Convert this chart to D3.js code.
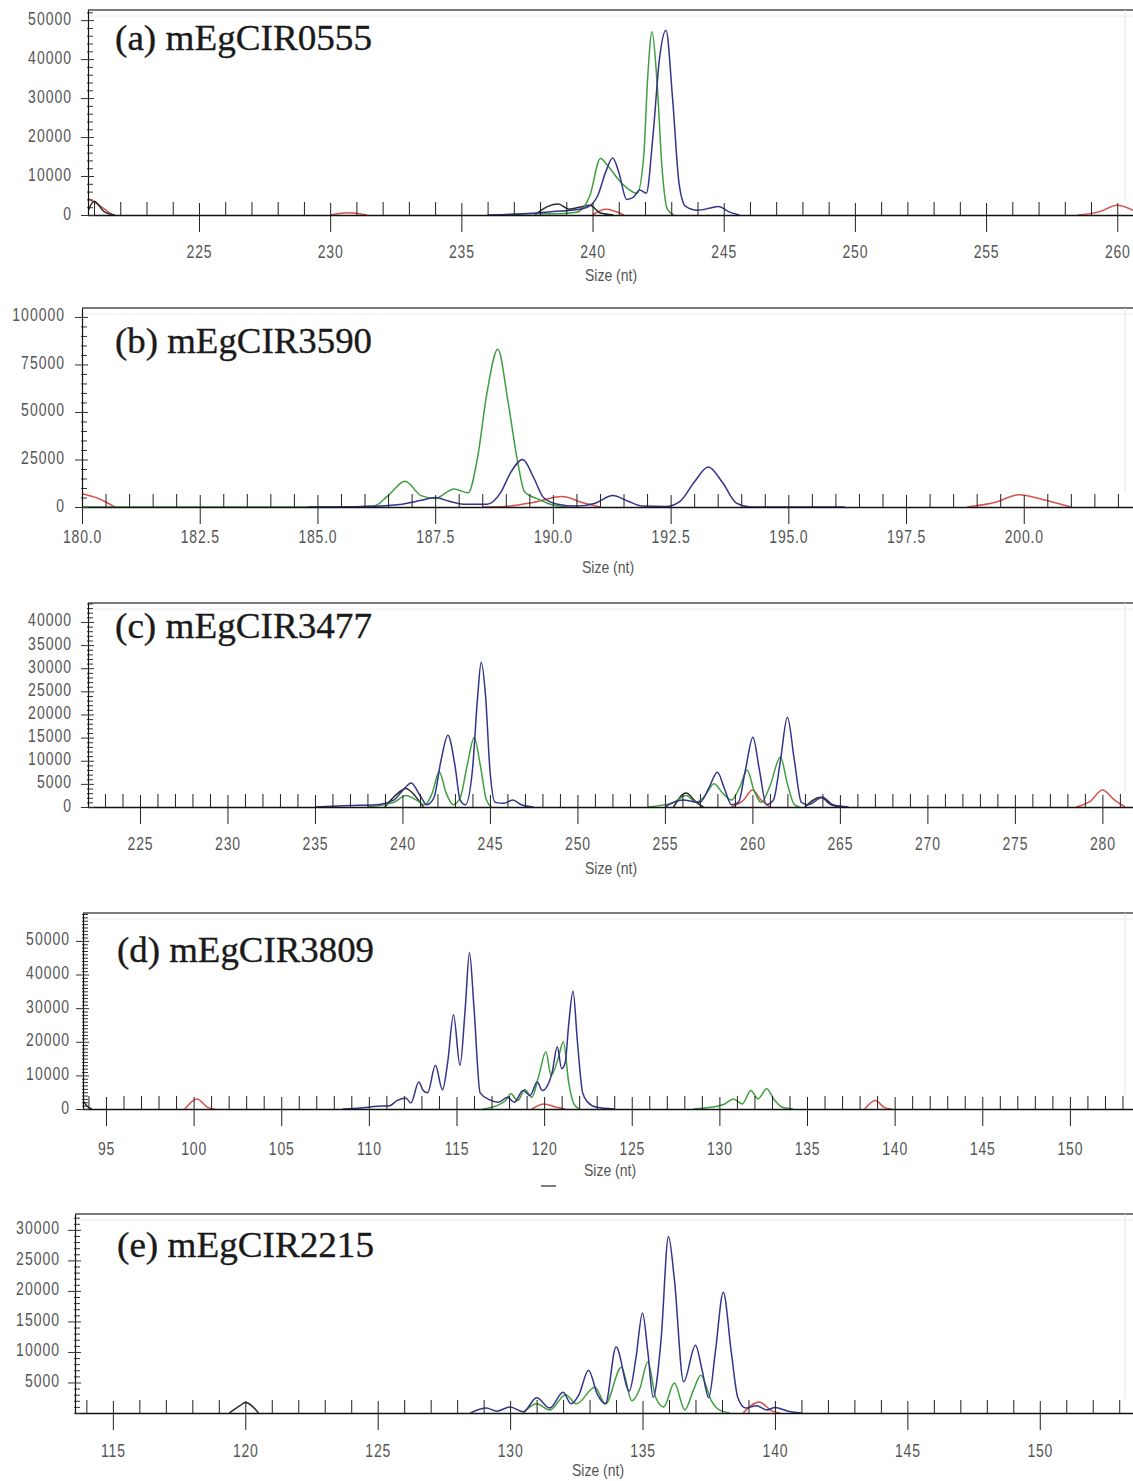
<!DOCTYPE html>
<html>
<head>
<meta charset="utf-8">
<script src="https://cdn.jsdelivr.net/npm/d3@7"></script>
<style>
  body { margin: 0; background: #fff; }
  svg { display: block; }
</style>
</head>
<body>
<svg id="fig" width="1133" height="1481"></svg>
<script>
// ---------- data: capillary electrophoresis traces for five SSR markers ----------
const titles = ["(a) mEgCIR0555", "(b) mEgCIR3590", "(c) mEgCIR3477", "(d) mEgCIR3809", "(e) mEgCIR2215"];
const axisTitle = "Size (nt)";

// visible size window (nt) and top of the intensity axis (RFU) for each panel
const sizeRange = [[220.77, 260.6], [180, 202.32], [222.03, 281.75], [93.69, 153.6], [113.57, 153.52]];
const rfuTop = [52600, 104700, 44100, 58300, 32600];

// labelled ticks
const sizeTicksA = [225, 230, 235, 240, 245, 250, 255, 260];
const sizeTicksB = [180, 182.5, 185, 187.5, 190, 192.5, 195, 197.5, 200];
const sizeTicksC = [225, 230, 235, 240, 245, 250, 255, 260, 265, 270, 275, 280];
const sizeTicksD = [95, 100, 105, 110, 115, 120, 125, 130, 135, 140, 145, 150];
const sizeTicksE = [115, 120, 125, 130, 135, 140, 145, 150];
const rfuTicksA = [0, 10000, 20000, 30000, 40000, 50000];
const rfuTicksB = [0, 25000, 50000, 75000, 100000];
const rfuTicksC = [0, 5000, 10000, 15000, 20000, 25000, 30000, 35000, 40000];
const rfuTicksD = [0, 10000, 20000, 30000, 40000, 50000];
const rfuTicksE = [5000, 10000, 15000, 20000, 25000, 30000];
const sizeMinorStep = [1, 0.5, 1, 1, 1];
const rfuMinorStep = [2000, 5000, 1000, 1000, 1000];

// dye channels: each is a list of trace segments, each segment [size, RFU] pairs
const blueA = [[[236, 0], [237.5, 300], [238.5, 900], [239.2, 1200], [239.8, 2000], [240.2, 5000], [240.5, 11000], [240.77, 14600], [241.0, 11000], [241.3, 4000], [241.55, 4500], [241.8, 6400], [242.05, 5600], [242.3, 20000], [242.55, 40000], [242.8, 47400], [243.05, 30000], [243.3, 8000], [243.55, 2200], [244.0, 1200], [244.5, 1800], [244.8, 2200], [245.2, 800], [245.6, 0]]];
const greenA = [[[236.5, 0], [237.5, 400], [238.5, 300], [239.4, 700], [239.9, 5000], [240.3, 14500], [240.6, 12500], [241.0, 9000], [241.4, 6500], [241.7, 5500], [241.95, 15000], [242.1, 35000], [242.27, 47000], [242.45, 35000], [242.65, 12000], [242.85, 1500], [243.1, 0]]];
const redA = [[[220.77, 4200], [221.2, 2500], [221.7, 0]], [[230.0, 0], [230.7, 600], [231.4, 0]], [[240.0, 0], [240.5, 1500], [241.2, 0]], [[258.5, 0], [259.3, 800], [260.0, 2500], [260.6, 1200]]];
const blackA = [[[220.77, 1000], [221.0, 3500], [221.4, 800], [221.8, 0]], [[237.8, 0], [238.3, 2200], [238.7, 2800], [239.1, 1500], [239.5, 2000], [239.9, 2500], [240.3, 500], [240.8, 0]]];

const blueB = [[[184.8, 0], [186.0, 300], [186.8, 1500], [187.2, 3500], [187.5, 5000], [187.8, 3000], [188.1, 1500], [188.6, 1500], [188.9, 8000], [189.1, 18000], [189.36, 25000], [189.6, 15000], [189.8, 5000], [190.1, 1500], [190.5, 500], [190.9, 2000], [191.27, 6000], [191.6, 3000], [191.9, 500], [192.4, 300], [192.7, 3000], [193.0, 13000], [193.3, 21000], [193.6, 13000], [193.9, 2000], [194.2, 0], [196.2, 0]]];
const greenB = [[[180, 0], [185.5, 0], [186.2, 500], [186.5, 6000], [186.86, 13500], [187.2, 6000], [187.5, 4500], [187.9, 9500], [188.2, 7500], [188.4, 26000], [188.6, 60000], [188.83, 83000], [189.05, 55000], [189.25, 24000], [189.4, 8000], [189.7, 4000], [190.0, 1000], [190.3, 0]]];
const redB = [[[180, 7000], [180.35, 4500], [180.7, 0]], [[188.5, 0], [189.0, 300], [189.6, 2500], [190.2, 5500], [190.6, 2500], [191.0, 0]], [[198.8, 0], [199.4, 2500], [199.9, 6500], [200.4, 4000], [201.0, 0]]];
const blackB = [];

const blueC = [[[235, 0], [237, 300], [238.5, 500], [239.5, 1500], [240.0, 3500], [240.5, 5200], [241.0, 2500], [241.4, 500], [241.8, 2000], [242.2, 10000], [242.6, 15500], [243.0, 9000], [243.3, 1500], [243.6, 500], [244.0, 8000], [244.3, 24000], [244.5, 31300], [244.75, 24000], [245.0, 8000], [245.3, 1000], [245.8, 800], [246.3, 1500], [246.8, 500], [247.5, 0]], [[255, 0], [256.0, 1500], [257.0, 1000], [257.5, 4000], [258.0, 7500], [258.4, 4000], [258.8, 500], [259.2, 1000], [259.6, 8000], [260.03, 15100], [260.4, 8000], [260.8, 500], [261.2, 1500], [261.6, 10000], [262.0, 19400], [262.4, 10000], [262.8, 1000], [263.2, 500], [264.0, 2100], [264.6, 500], [265.5, 0]]];
const greenC = [[[238, 0], [239.5, 1000], [240.2, 2500], [240.8, 1500], [241.3, 500], [241.7, 3000], [242.1, 7600], [242.5, 3000], [242.9, 500], [243.3, 2000], [243.7, 9000], [244.1, 15000], [244.45, 9000], [244.8, 1500], [245.1, 0]], [[254, 0], [255.5, 1000], [256.2, 2500], [256.8, 1000], [257.3, 2500], [257.8, 5000], [258.3, 3000], [258.8, 1500], [259.3, 4500], [259.7, 8000], [260.1, 3500], [260.5, 1000], [261.0, 4500], [261.6, 10800], [262.0, 5000], [262.4, 500], [262.7, 0]]];
const redC = [[[258.8, 0], [259.5, 1500], [260.0, 3700], [260.5, 1500], [261.0, 0]], [[278.5, 0], [279.3, 1200], [280.0, 3700], [280.7, 1500], [281.3, 0]]];
const blackC = [[[239, 0], [239.6, 2500], [240.2, 4000], [240.7, 2500], [241.2, 0]], [[255.5, 0], [256.2, 3000], [256.8, 1000], [257.2, 0]], [[263, 0], [263.9, 2100], [264.5, 500], [265.2, 0]]];

const blueD = [[[108.5, 0], [109.5, 300], [110.5, 800], [111.2, 1000], [111.6, 2500], [112.1, 3300], [112.4, 1800], [112.85, 8000], [113.1, 5500], [113.35, 4800], [113.8, 13000], [114.2, 5700], [114.5, 14000], [114.83, 28000], [115.2, 13000], [115.5, 30000], [115.74, 46500], [116.0, 30000], [116.35, 4800], [116.9, 2700], [117.4, 2000], [117.9, 3500], [118.3, 2000], [118.8, 5500], [119.2, 4000], [119.6, 8000], [119.9, 5500], [120.45, 10700], [120.75, 18500], [121.0, 12000], [121.2, 13700], [121.4, 25000], [121.65, 35000], [121.9, 20000], [122.2, 4800], [122.5, 2000], [123.0, 500], [124.0, 0]]];
const greenD = [[[116.5, 0], [117.3, 1000], [117.8, 2500], [118.1, 4500], [118.5, 2500], [118.9, 5800], [119.3, 3500], [119.7, 10000], [120.1, 17000], [120.4, 10000], [120.8, 15000], [121.1, 20000], [121.4, 8000], [121.7, 1500], [122.0, 0]], [[128.5, 0], [129.5, 500], [130.3, 1500], [130.8, 3000], [131.3, 1500], [131.8, 5500], [132.2, 3000], [132.7, 6000], [133.1, 3000], [133.6, 500], [134.2, 0]]];
const redD = [[[99.5, 0], [100.2, 3000], [100.8, 500], [101.2, 0]], [[119.3, 0], [120.0, 1500], [120.7, 500], [121.2, 0]], [[138.3, 0], [138.9, 2500], [139.4, 500], [139.8, 0]]];
const blackD = [[[93.69, 2500], [93.9, 1000], [94.2, 0]]];

const blueE = [[[128.5, 0], [129.1, 800], [129.5, 300], [130.0, 1000], [130.5, 200], [131.0, 2500], [131.5, 800], [132.0, 3400], [132.3, 1500], [132.6, 3000], [132.96, 7000], [133.3, 3000], [133.6, 1500], [134.0, 10800], [134.5, 3600], [134.75, 9000], [135.0, 16400], [135.2, 10000], [135.4, 2600], [135.7, 12000], [135.98, 28900], [136.2, 22000], [136.55, 5100], [137.0, 11100], [137.25, 7000], [137.5, 2500], [137.75, 10000], [138.05, 19800], [138.35, 10000], [138.6, 2500], [138.9, 800], [139.3, 1200], [139.7, 500], [140.0, 900], [140.5, 300], [141, 0]]];
const greenE = [[[130.5, 0], [131.0, 1500], [131.5, 500], [132.1, 3000], [132.5, 1500], [133.2, 4200], [133.6, 1500], [134.2, 7500], [134.6, 2000], [134.9, 4000], [135.2, 8400], [135.5, 2500], [135.8, 1000], [136.2, 4900], [136.6, 500], [136.9, 3500], [137.2, 6200], [137.6, 2000], [137.9, 500], [138.3, 0]]];
const redE = [[[138.8, 0], [139.4, 1800], [139.9, 300], [140.2, 0]]];
const blackE = [[[119.4, 0], [119.8, 1200], [120.0, 1700], [120.5, 0]]];

const sizeTicks = [sizeTicksA, sizeTicksB, sizeTicksC, sizeTicksD, sizeTicksE];
const rfuTicks = [rfuTicksA, rfuTicksB, rfuTicksC, rfuTicksD, rfuTicksE];
const channels = [
  { blue: blueA, green: greenA, red: redA, black: blackA },
  { blue: blueB, green: greenB, red: redB, black: blackB },
  { blue: blueC, green: greenC, red: redC, black: blackC },
  { blue: blueD, green: greenD, red: redD, black: blackD },
  { blue: blueE, green: greenE, red: redE, black: blackE }
];

// ---------- layout ----------
const W = 1133;
const frames = [
  { left: 88, top: 10,   base: 215,  yLab: 16, xLab: 43, titleX: 115, titleY: 50,   capX: 611, capY: 281 },
  { left: 82, top: 308,  base: 507,  yLab: 17, xLab: 36, titleX: 115, titleY: 353,  capX: 608, capY: 573 },
  { left: 88, top: 603,  base: 807,  yLab: 16, xLab: 43, titleX: 115, titleY: 638,  capX: 611, capY: 874 },
  { left: 83, top: 913,  base: 1109, yLab: 13, xLab: 46, titleX: 117, titleY: 962,  capX: 610, capY: 1176 },
  { left: 75, top: 1214, base: 1413, yLab: 15, xLab: 44, titleX: 117, titleY: 1257, capX: 598, capY: 1476 }
];
const dyeColor = { green: "#3f9e3f", red: "#d6504c", black: "#2a2a2a", blue: "#34348a" };
const drawOrder = ["red", "black", "green", "blue"];
const labelFont = "'Liberation Sans', Arial, sans-serif";

const svg = d3.select("#fig");
svg.append("rect").attr("width", W).attr("height", 1481).attr("fill", "#fff");

frames.forEach((f, i) => {
  const g = svg.append("g");
  const x = d3.scaleLinear().domain(sizeRange[i]).range([f.left, W]);
  const y = d3.scaleLinear().domain([0, rfuTop[i]]).range([f.base, f.top]);

  // frame: heavy top rule and faint right edge
  g.append("line").attr("x1", f.left).attr("x2", W).attr("y1", f.top).attr("y2", f.top)
    .attr("stroke", "#7a7a7a").attr("stroke-width", 2);
  g.append("line").attr("x1", f.left).attr("x2", W).attr("y1", f.top + 6).attr("y2", f.top + 6)
    .attr("stroke", "#ececec").attr("stroke-width", 1);
  g.append("line").attr("x1", 1125).attr("x2", 1125).attr("y1", f.top).attr("y2", f.base - 14)
    .attr("stroke", "#e4e4e4").attr("stroke-width", 1);

  // traces, clipped to the plot window
  const clipId = "clip" + i;
  svg.append("clipPath").attr("id", clipId).append("rect")
    .attr("x", f.left).attr("y", f.top).attr("width", W - f.left).attr("height", f.base - f.top + 1);
  const line = d3.line().x(d => x(d[0])).y(d => y(d[1])).curve(d3.curveMonotoneX);
  const traces = g.append("g").attr("clip-path", `url(#${clipId})`);
  drawOrder.forEach(dye => {
    (channels[i][dye] || []).forEach(seg => {
      traces.append("path").attr("d", line(seg)).attr("fill", "none")
        .attr("stroke", dyeColor[dye]).attr("stroke-width", 1.5).attr("stroke-linejoin", "round");
    });
  });

  // size axis: minor ticks point up, major ticks cross the baseline
  const [s0, s1] = sizeRange[i];
  const step = sizeMinorStep[i];
  const minor = d3.range(Math.ceil(s0 / step) * step, s1, step)
    .filter(v => !sizeTicks[i].some(t => Math.abs(t - v) < 1e-6));
  const xMinor = g.append("g").attr("transform", `translate(0,${f.base})`)
    .call(d3.axisTop(x).tickValues(minor).tickSize(13).tickSizeOuter(0).tickFormat(""));
  xMinor.select(".domain").remove();
  xMinor.selectAll("line").attr("stroke", "#222");

  const fmt = i === 1 ? d3.format(".1f") : d3.format("d");
  const xMajor = g.append("g").attr("transform", `translate(0,${f.base})`)
    .call(d3.axisBottom(x).tickValues(sizeTicks[i]).tickSize(17).tickSizeOuter(0).tickFormat(fmt));
  xMajor.select(".domain").attr("stroke", "#111").attr("stroke-width", 1.5);
  xMajor.selectAll(".tick line").attr("y1", -12).attr("stroke", "#222");
  xMajor.selectAll(".tick text")
    .attr("y", 0).attr("dy", null)
    .attr("transform", `translate(0,${f.xLab}) scale(1,1.25)`)
    .attr("font-family", labelFont).attr("font-size", 14).attr("letter-spacing", 0.8)
    .attr("fill", "#555");

  // intensity axis
  const rStep = rfuMinorStep[i];
  const rMinor = d3.range(0, rfuTop[i], rStep).filter(v => !rfuTicks[i].includes(v));
  const yMinor = g.append("g").attr("transform", `translate(${f.left},0)`)
    .call(d3.axisRight(y).tickValues(rMinor).tickSize(5).tickSizeOuter(0).tickFormat(""));
  yMinor.select(".domain").remove();
  yMinor.selectAll("line").attr("x1", -1).attr("stroke", "#333");

  const yMajor = g.append("g").attr("transform", `translate(${f.left},0)`)
    .call(d3.axisLeft(y).tickValues(rfuTicks[i]).tickSize(7).tickSizeOuter(0).tickFormat(d3.format("d")));
  yMajor.select(".domain").attr("stroke", "#111").attr("stroke-width", 1.2);
  yMajor.selectAll(".tick line").attr("x2", -7).attr("x1", 6).attr("stroke", "#333");
  yMajor.selectAll(".tick text")
    .attr("x", 0).attr("dy", null)
    .attr("transform", `translate(${-f.yLab},4) scale(1,1.25)`)
    .attr("font-family", labelFont).attr("font-size", 14).attr("letter-spacing", 1)
    .attr("fill", "#555");

  // axis caption and marker title
  g.append("text").attr("transform", `translate(${f.capX},${f.capY}) scale(1,1.2)`)
    .attr("text-anchor", "middle").attr("font-family", labelFont).attr("font-size", 14)
    .attr("fill", "#555").text(axisTitle);
  g.append("text").attr("x", f.titleX).attr("y", f.titleY)
    .attr("font-family", "'Liberation Serif', 'Times New Roman', serif").attr("font-size", 35)
    .attr("textLength", 257).attr("lengthAdjust", "spacingAndGlyphs")
    .attr("fill", "#1a1a1a").attr("stroke", "#1a1a1a").attr("stroke-width", 0.35)
    .text(titles[i]);
});

// stray dash under panel (d)
svg.append("line").attr("x1", 541).attr("x2", 556).attr("y1", 1186).attr("y2", 1186)
  .attr("stroke", "#555").attr("stroke-width", 1.5);
</script>
</body>
</html>
